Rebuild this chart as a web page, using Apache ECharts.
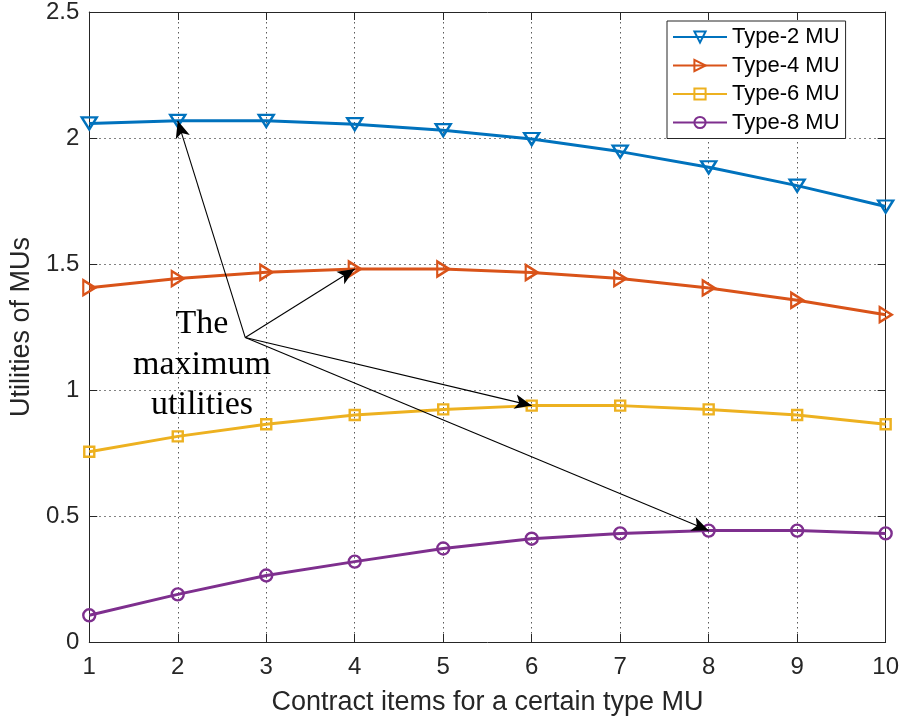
<!DOCTYPE html>
<html>
<head>
<meta charset="utf-8">
<script src="https://cdn.jsdelivr.net/npm/echarts@6/dist/echarts.min.js"></script>
<style>
  html, body { margin: 0; padding: 0; background: #ffffff; }
  #chart { width: 902px; height: 724px; }
</style>
</head>
<body>
<div id="chart"></div>
<script>
// Contract items (x) and utility of each MU type
const contractItems = [1, 2, 3, 4, 5, 6, 7, 8, 9, 10];
const type2 = [2.058, 2.068, 2.068, 2.055, 2.031, 1.996, 1.946, 1.884, 1.811, 1.728];
const type4 = [1.406, 1.442, 1.467, 1.480, 1.480, 1.466, 1.442, 1.405, 1.356, 1.299];
const type6 = [0.755, 0.816, 0.864, 0.901, 0.923, 0.938, 0.938, 0.923, 0.901, 0.864];
const type8 = [0.106, 0.189, 0.264, 0.319, 0.371, 0.410, 0.431, 0.442, 0.442, 0.431];
const seriesNames = ['Type-2 MU', 'Type-4 MU', 'Type-6 MU', 'Type-8 MU'];
const yTicks = [0, 0.5, 1, 1.5, 2, 2.5];

// Annotation: arrows start from one point beside the text and end on each curve's maximum
const arrowStart = [2.763, 1.208];
const maxItems = [2, 4, 6, 8];
const annotationLines = ['The', 'maximum', 'utilities'];

const colors = ['#0072BD', '#D95319', '#EDB120', '#7E2F8E'];
const allSeries = [type2, type4, type6, type8];
const symbols = [
  'path://M0,0 L10,0 L5,8.66 Z',      // downward triangle
  'path://M0,0 L8.66,5 L0,10 Z',      // right-pointing triangle
  'rect',
  'circle'
];
const symbolSizes = [[15, 12], [12, 15], 10, 12];

const sans = 'Liberation Sans, Arial, Helvetica, sans-serif';
const axisColor = '#262626';

const chart = echarts.init(document.getElementById('chart'), null, { renderer: 'canvas' });

const series = allSeries.map((vals, i) => ({
  name: seriesNames[i],
  type: 'line',
  xAxisIndex: 0,
  yAxisIndex: 0,
  data: contractItems.map((x, k) => [x, vals[k]]),
  symbol: symbols[i],
  symbolSize: symbolSizes[i],
  showAllSymbol: true,
  lineStyle: { color: colors[i], width: 3 },
  itemStyle: { color: 'rgba(255,255,255,0)', borderColor: colors[i], borderWidth: 2.4 },
  emphasis: { disabled: true },
  z: 3
}));

// Arrows drawn as a markLine on a helper series
series.push({
  name: 'annotation',
  type: 'line',
  data: [],
  silent: true,
  markLine: {
    silent: true,
    animation: false,
    symbol: ['none', 'arrow'],
    symbolSize: [11, 17],
    label: { show: false },
    emphasis: { disabled: true },
    lineStyle: { color: '#000000', width: 1.1, type: 'solid' },
    data: maxItems.map((item, i) => [
      { coord: arrowStart },
      { coord: [item, allSeries[i][contractItems.indexOf(item)]] }
    ])
  },
  z: 5
});

const labelFont = { color: axisColor, fontFamily: sans, fontSize: 24 };

chart.setOption({
  backgroundColor: '#ffffff',
  animation: false,
  grid: { left: 86, right: 14, top: 10, bottom: 82, containLabel: false },
  legend: {
    data: seriesNames,
    orient: 'vertical',
    left: 667,
    top: 21,
    itemWidth: 54,
    itemHeight: 14,
    itemGap: 6.5,
    padding: [5, 6, 5, 5],
    backgroundColor: '#ffffff',
    borderColor: '#262626',
    borderWidth: 1,
    borderRadius: 0,
    selectedMode: false,
    textStyle: { color: '#000000', fontFamily: sans, fontSize: 22, padding: [0, 0, 0, 0] }
  },
  xAxis: [
    {
      type: 'value',
      min: 1, max: 10, interval: 1,
      name: 'Contract items for a certain type MU',
      nameLocation: 'middle',
      nameGap: 47,
      nameTextStyle: { color: axisColor, fontFamily: sans, fontSize: 27 },
      axisLine: { show: true, onZero: false, lineStyle: { color: axisColor, width: 1 } },
      axisTick: { show: true, inside: true, length: 8, lineStyle: { color: axisColor } },
      axisLabel: Object.assign({ margin: 13 }, labelFont),
      splitLine: { show: true, lineStyle: { color: '#5a5a5a', width: 1, type: [1.5, 3.5] } }
    },
    {
      type: 'value',
      position: 'top',
      min: 1, max: 10, interval: 1,
      axisLine: { show: true, onZero: false, lineStyle: { color: axisColor, width: 1 } },
      axisTick: { show: true, inside: true, length: 8, lineStyle: { color: axisColor } },
      axisLabel: { show: false },
      splitLine: { show: false }
    }
  ],
  yAxis: [
    {
      type: 'value',
      min: yTicks[0], max: yTicks[yTicks.length - 1], interval: 0.5,
      name: 'Utilities of MUs',
      nameLocation: 'middle',
      nameGap: 46,
      nameTextStyle: { color: axisColor, fontFamily: sans, fontSize: 27 },
      axisLine: { show: true, onZero: false, lineStyle: { color: axisColor, width: 1 } },
      axisTick: { show: true, inside: true, length: 8, lineStyle: { color: axisColor } },
      axisLabel: Object.assign({ margin: 10 }, labelFont),
      splitLine: { show: true, lineStyle: { color: '#5a5a5a', width: 1, type: [1.5, 3.5] } }
    },
    {
      type: 'value',
      position: 'right',
      min: yTicks[0], max: yTicks[yTicks.length - 1], interval: 0.5,
      axisLine: { show: true, onZero: false, lineStyle: { color: axisColor, width: 1 } },
      axisTick: { show: true, inside: true, length: 8, lineStyle: { color: axisColor } },
      axisLabel: { show: false },
      splitLine: { show: false }
    }
  ],
  graphic: annotationLines.map((t, i) => ({
    type: 'text',
    x: 202,
    y: 324 + i * 40.7,
    silent: true,
    z: 10,
    style: {
      text: t,
      fill: '#000000',
      font: '34px "Liberation Serif", "Times New Roman", serif',
      textAlign: 'center',
      textVerticalAlign: 'middle'
    }
  })),
  series: series
});
</script>
</body>
</html>
